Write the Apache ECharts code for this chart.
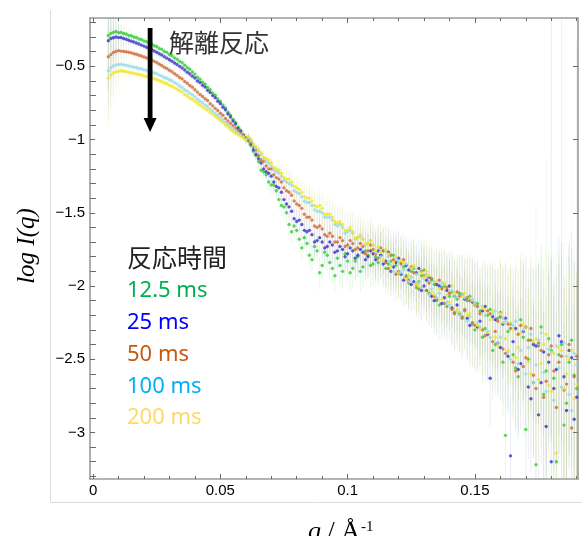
<!DOCTYPE html>
<html>
<head>
<meta charset="utf-8">
<script src="https://cdn.jsdelivr.net/npm/echarts@6/dist/echarts.min.js"></script>
<style>
html, body { margin: 0; padding: 0; background: #fff; }
#chart { width: 582px; height: 536px; }
</style>
</head>
<body>
<div id="chart"></div>
<script>
// 散乱ベクトル q (Å^-1)
const q = [
  0.006,0.007,0.008,0.009,0.010,0.011,0.012,0.013,0.014,0.015,
  0.016,0.017,0.018,0.019,0.020,0.021,0.022,0.023,0.024,0.025,
  0.026,0.027,0.028,0.029,0.030,0.031,0.032,0.033,0.034,0.035,
  0.036,0.037,0.038,0.039,0.040,0.041,0.042,0.043,0.044,0.045,
  0.046,0.047,0.048,0.049,0.050,0.051,0.052,0.053,0.054,0.055,
  0.056,0.057,0.058,0.059,0.060,
  0.061,0.062,0.063,0.064,0.065,0.066,0.067,0.068,0.069,0.070,
  0.071,0.072,0.073,0.074,0.075,0.076,0.077,0.078,0.079,0.080,
  0.081,0.082,0.083,0.084,0.085,0.086,0.087,0.088,0.089,0.090,
  0.091,0.092,0.093,0.094,0.095,0.096,0.097,0.098,0.099,0.100,
  0.101,0.102,0.103,0.104,0.105,0.106,0.107,0.108,0.109,0.110,
  0.111,0.112,0.113,0.114,0.115,0.116,0.117,0.118,0.119,0.120,
  0.121,0.122,0.123,0.124,0.125,0.126,0.127,0.128,0.129,0.130,
  0.131,0.132,0.133,0.134,0.135,0.136,0.137,0.138,0.139,0.140,
  0.141,0.142,0.143,0.144,0.145,0.146,0.147,0.148,0.149,0.150,
  0.151,0.152,0.153,0.154,0.155,0.156,0.157,0.158,0.159,0.160,
  0.161,0.162,0.163,0.164,0.165,0.166,0.167,0.168,0.169,0.170,
  0.171,0.172,0.173,0.174,0.175,0.176,0.177,0.178,0.179,0.180,
  0.181,0.182,0.183,0.184,0.185,0.186,0.187,0.188,0.189,0.190
]

// log I(q) 12.5 ms
const green = [
  -0.29,-0.275,-0.268,-0.262,-0.27,-0.268,-0.276,-0.279,-0.29,-0.291,
  -0.3,-0.303,-0.313,-0.316,-0.327,-0.331,-0.343,-0.347,-0.359,-0.365,
  -0.378,-0.384,-0.398,-0.405,-0.419,-0.427,-0.442,-0.451,-0.466,-0.476,
  -0.492,-0.508,-0.520,-0.538,-0.553,-0.575,-0.588,-0.609,-0.622,-0.644,
  -0.659,-0.683,-0.698,-0.723,-0.739,-0.766,-0.784,-0.813,-0.833,-0.862,
  -0.884,-0.915,-0.936,-0.967,-0.988,
  -1.01,-1.04,-1.08,-1.11,-1.15,-1.21,-1.22,-1.24,-1.29,-1.31,
  -1.31,-1.35,-1.41,-1.45,-1.46,-1.50,-1.58,-1.63,-1.59,-1.62,
  -1.68,-1.74,-1.67,-1.71,-1.79,-1.82,-1.73,-1.76,-1.91,-1.86,
  -1.77,-1.79,-1.84,-1.88,-1.93,-1.81,-1.86,-1.90,-1.78,-1.83,
  -1.91,-1.88,-1.83,-1.80,-1.90,-1.87,-1.76,-1.79,-1.86,-1.85,
  -1.80,-1.84,-1.79,-1.76,-1.88,-1.85,-1.83,-1.79,-1.86,-1.91,
  -1.84,-1.87,-1.93,-1.98,-1.90,-1.88,-2.01,-1.97,-1.93,-1.89,
  -2.03,-2.05,-1.96,-1.99,-2.10,-2.13,-2.01,-2.00,-2.14,-2.07,
  -2.04,-2.18,-2.09,-2.05,-2.21,-2.17,-2.10,-2.07,-2.26,-2.30,
  -2.12,-2.17,-2.35,-2.29,-2.20,-2.16,-2.44,-2.40,-2.22,-2.18,
  -2.52,-3.02,-2.31,-2.26,-2.47,-2.56,-2.62,-2.23,-2.35,-2.98,
  -2.50,-2.37,-2.66,-3.22,-2.41,-2.28,-2.74,-2.58,-2.36,-2.44,
  -2.63,-3.20,-2.47,-2.40,-2.95,-2.80,-2.52,-2.37,-2.61,-2.70
]

// 25 ms
const blue = [
  -0.325,-0.31,-0.305,-0.3,-0.304,-0.303,-0.31,-0.315,-0.322,-0.328,
  -0.334,-0.341,-0.348,-0.355,-0.362,-0.37,-0.378,-0.386,-0.395,-0.404,
  -0.414,-0.423,-0.434,-0.444,-0.455,-0.465,-0.477,-0.488,-0.5,-0.511,
  -0.525,-0.540,-0.552,-0.567,-0.580,-0.600,-0.611,-0.630,-0.642,-0.664,
  -0.678,-0.700,-0.714,-0.739,-0.754,-0.780,-0.797,-0.826,-0.846,-0.873,
  -0.894,-0.924,-0.944,-0.972,-0.992,
  -1.00,-1.03,-1.07,-1.10,-1.13,-1.16,-1.20,-1.22,-1.23,-1.25,
  -1.29,-1.32,-1.33,-1.36,-1.41,-1.44,-1.46,-1.49,-1.54,-1.56,
  -1.55,-1.58,-1.62,-1.63,-1.62,-1.65,-1.70,-1.69,-1.67,-1.70,
  -1.74,-1.73,-1.70,-1.72,-1.77,-1.76,-1.73,-1.75,-1.80,-1.78,
  -1.74,-1.76,-1.81,-1.79,-1.75,-1.77,-1.82,-1.80,-1.76,-1.78,
  -1.82,-1.76,-1.79,-1.85,-1.83,-1.77,-1.90,-1.87,-1.84,-1.81,
  -1.92,-1.96,-1.86,-1.89,-1.99,-1.97,-1.91,-1.88,-2.03,-2.00,
  -1.96,-1.94,-2.07,-2.10,-1.99,-2.00,-2.12,-2.08,-2.03,-2.00,
  -2.15,-2.07,-2.13,-2.19,-2.06,-2.09,-2.22,-2.27,-2.11,-2.13,
  -2.28,-2.24,-2.17,-2.14,-2.33,-2.63,-2.21,-2.23,-2.39,-2.42,
  -2.26,-2.22,-2.48,-3.16,-2.38,-2.29,-2.57,-2.53,-2.31,-2.28,
  -2.69,-2.77,-2.40,-2.41,-2.88,-2.66,-2.45,-2.96,-2.52,-3.20,
  -2.70,-2.57,-2.34,-2.38,-2.62,-2.85,-2.44,-2.49,-2.91,-2.76
]

// 50 ms
const orange = [
  -0.435,-0.42,-0.405,-0.398,-0.393,-0.396,-0.398,-0.4,-0.404,-0.408,
  -0.414,-0.418,-0.424,-0.43,-0.436,-0.442,-0.45,-0.456,-0.466,-0.474,
  -0.485,-0.494,-0.506,-0.515,-0.527,-0.537,-0.551,-0.562,-0.576,-0.586,
  -0.603,-0.616,-0.631,-0.643,-0.660,-0.676,-0.692,-0.706,-0.721,-0.733,
  -0.755,-0.770,-0.787,-0.802,-0.820,-0.834,-0.856,-0.873,-0.890,-0.905,
  -0.922,-0.938,-0.954,-0.972,-0.993,
  -1.00,-1.02,-1.05,-1.07,-1.11,-1.14,-1.15,-1.18,-1.20,-1.20,
  -1.24,-1.26,-1.27,-1.29,-1.33,-1.35,-1.36,-1.38,-1.42,-1.44,
  -1.45,-1.47,-1.51,-1.53,-1.53,-1.55,-1.59,-1.60,-1.59,-1.61,
  -1.65,-1.66,-1.64,-1.66,-1.70,-1.70,-1.67,-1.69,-1.73,-1.72,
  -1.69,-1.71,-1.75,-1.74,-1.71,-1.73,-1.78,-1.76,-1.72,-1.75,
  -1.78,-1.81,-1.74,-1.76,-1.84,-1.88,-1.79,-1.82,-1.92,-1.90,
  -1.85,-1.82,-1.94,-1.96,-1.87,-1.91,-1.99,-2.02,-1.90,-1.93,
  -2.03,-1.98,-1.95,-2.07,-2.09,-1.96,-2.02,-2.12,-2.01,-2.05,
  -2.16,-2.19,-2.04,-2.07,-2.22,-2.16,-2.08,-2.10,-2.25,-2.27,
  -2.14,-2.19,-2.30,-2.34,-2.17,-2.19,-2.38,-2.31,-2.24,-2.21,
  -2.43,-2.46,-2.26,-2.29,-2.52,-2.58,-2.33,-2.27,-2.55,-2.49,
  -2.37,-2.29,-2.61,-2.70,-2.39,-2.44,-2.76,-2.65,-2.47,-2.41,
  -2.58,-2.83,-2.52,-2.48,-2.71,-2.67,-2.40,-2.97,-2.62,-2.48
]

// 100 ms
const cyan = [
  -0.53,-0.51,-0.498,-0.49,-0.488,-0.486,-0.49,-0.492,-0.498,-0.5,
  -0.506,-0.508,-0.514,-0.517,-0.524,-0.527,-0.535,-0.538,-0.546,-0.55,
  -0.56,-0.566,-0.576,-0.581,-0.592,-0.599,-0.611,-0.62,-0.634,-0.644,
  -0.66,-0.67,-0.684,-0.694,-0.708,-0.724,-0.738,-0.748,-0.763,-0.774,
  -0.792,-0.806,-0.822,-0.835,-0.850,-0.864,-0.882,-0.897,-0.914,-0.928,
  -0.944,-0.956,-0.968,-0.980,-0.997,
  -0.99,-1.01,-1.04,-1.06,-1.08,-1.10,-1.13,-1.15,-1.16,-1.18,
  -1.21,-1.22,-1.23,-1.25,-1.28,-1.29,-1.30,-1.31,-1.35,-1.36,
  -1.37,-1.39,-1.42,-1.43,-1.43,-1.45,-1.48,-1.49,-1.49,-1.50,
  -1.53,-1.53,-1.53,-1.55,-1.58,-1.59,-1.58,-1.60,-1.64,-1.63,
  -1.62,-1.64,-1.68,-1.67,-1.66,-1.68,-1.72,-1.71,-1.69,-1.72,
  -1.77,-1.74,-1.80,-1.83,-1.76,-1.80,-1.86,-1.90,-1.81,-1.83,
  -1.91,-1.89,-1.85,-1.97,-1.94,-1.87,-1.92,-1.98,-2.01,-1.95,
  -1.92,-2.06,-2.02,-1.97,-2.08,-2.05,-1.98,-1.99,-2.11,-2.13,
  -2.03,-2.07,-2.17,-2.20,-2.06,-2.08,-2.24,-2.21,-2.09,-2.11,
  -2.25,-2.28,-2.14,-2.20,-2.31,-2.35,-2.19,-2.17,-2.39,-2.35,
  -2.22,-2.24,-2.45,-2.50,-2.27,-2.24,-2.53,-2.44,-2.30,-2.60,
  -2.42,-2.33,-2.66,-2.54,-2.37,-2.32,-2.59,-2.72,-2.43,-2.45,
  -2.78,-2.41,-2.56,-2.69,-2.39,-2.48,-2.74,-2.85,-2.46,-2.54
]

// 200 ms
const yellow = [
  -0.58,-0.56,-0.545,-0.538,-0.534,-0.53,-0.534,-0.536,-0.541,-0.544,
  -0.548,-0.552,-0.556,-0.56,-0.566,-0.569,-0.576,-0.578,-0.586,-0.59,
  -0.599,-0.604,-0.614,-0.619,-0.629,-0.636,-0.647,-0.654,-0.667,-0.676,
  -0.692,-0.702,-0.716,-0.725,-0.738,-0.753,-0.766,-0.776,-0.79,-0.798,
  -0.815,-0.828,-0.843,-0.855,-0.870,-0.882,-0.900,-0.914,-0.931,-0.944,
  -0.957,-0.968,-0.978,-0.988,-1.002,
  -0.98,-1.00,-1.03,-1.05,-1.07,-1.09,-1.12,-1.13,-1.14,-1.16,
  -1.19,-1.20,-1.21,-1.23,-1.26,-1.27,-1.27,-1.29,-1.32,-1.33,
  -1.34,-1.36,-1.39,-1.40,-1.40,-1.42,-1.45,-1.46,-1.45,-1.47,
  -1.51,-1.51,-1.51,-1.53,-1.56,-1.57,-1.56,-1.58,-1.62,-1.62,
  -1.60,-1.63,-1.67,-1.67,-1.65,-1.68,-1.71,-1.71,-1.69,-1.72,
  -1.76,-1.73,-1.77,-1.82,-1.75,-1.78,-1.87,-1.84,-1.80,-1.91,
  -1.83,-1.84,-1.95,-1.93,-1.88,-1.86,-1.99,-2.00,-1.91,-1.94,
  -1.90,-1.93,-2.04,-2.06,-1.97,-2.02,-2.09,-1.98,-2.06,-2.11,
  -2.00,-2.05,-2.16,-2.18,-2.07,-2.05,-2.20,-2.19,-2.10,-2.13,
  -2.27,-2.30,-2.15,-2.16,-2.32,-2.23,-2.17,-2.35,-2.41,-2.19,
  -2.25,-2.36,-2.44,-2.25,-2.30,-2.49,-2.42,-2.32,-2.26,-2.28,
  -2.52,-2.60,-2.38,-2.36,-2.64,-2.53,-2.40,-2.33,-2.68,-2.72,
  -2.46,-3.14,-2.42,-2.44,-2.70,-2.60,-2.50,-2.44,-2.77,-2.67
]

// 誤差棒 (±)
const errBar = [
  0.35,0.28,0.20,0.14,0.09,0.06,0.05,0.04,0.035,0.03,
  0.03,0.028,0.03,0.027,0.03,0.028,0.03,0.027,0.03,0.028,
  0.03,0.027,0.03,0.028,0.03,0.027,0.03,0.028,0.03,0.027,
  0.03,0.028,0.03,0.027,0.03,0.028,0.03,0.027,0.03,0.028,
  0.03,0.027,0.03,0.028,0.03,0.027,0.03,0.028,0.03,0.027,
  0.03,0.028,0.03,0.03,0.035,
  0.04,0.04,0.04,0.04,0.05,0.05,0.05,0.05,0.06,0.06,
  0.06,0.06,0.07,0.07,0.07,0.07,0.08,0.08,0.08,0.08,
  0.09,0.09,0.09,0.09,0.10,0.10,0.10,0.10,0.11,0.11,
  0.11,0.11,0.12,0.12,0.12,0.12,0.12,0.12,0.13,0.13,
  0.13,0.13,0.14,0.14,0.14,0.14,0.15,0.15,0.15,0.15,
  0.16,0.16,0.16,0.16,0.17,0.17,0.17,0.17,0.18,0.18,
  0.18,0.18,0.19,0.19,0.19,0.19,0.20,0.20,0.21,0.21,
  0.21,0.21,0.22,0.22,0.23,0.23,0.24,0.24,0.24,0.24,
  0.25,0.25,0.26,0.26,0.27,0.27,0.28,0.28,0.29,0.29,
  0.30,0.30,0.31,0.31,0.32,0.33,0.34,0.34,0.35,0.36,
  0.37,0.38,0.39,0.40,0.41,0.42,0.44,0.45,0.47,0.48,
  0.49,0.50,0.52,0.53,0.55,0.56,0.57,0.58,0.60,0.62,
  0.64,0.65,0.67,0.68,0.69,0.70,0.72,0.75,0.78,0.80
]

// 大きな誤差棒（系列番号つき）
const spikeQ = [0.174, 0.178, 0.180, 0.184, 0.188, 0.190]
const spikeSeries = [3, 0, 1, 0, 4, 2]
const spikeErr = [1.1, 1.45, 3.1, 2.3, 1.3, 2.15]

// 目盛
const xMajor = [0, 0.05, 0.1, 0.15]
const xMinor = [0.01,0.02,0.03,0.04,0.06,0.07,0.08,0.09,0.11,0.12,0.13,0.14,0.16,0.17,0.18,0.19]
const yMajor = [-3, -2.5, -2, -1.5, -1, -0.5]
const yMinor = [-3.3,-3.2,-3.1,-2.9,-2.8,-2.7,-2.6,-2.4,-2.3,-2.2,-2.1,-1.9,-1.8,-1.7,-1.6,
  -1.4,-1.3,-1.2,-1.1,-0.9,-0.8,-0.7,-0.6,-0.4,-0.3,-0.2]

const seriesNames = ['12.5 ms', '25 ms', '50 ms', '100 ms', '200 ms']
const seriesValues = [green, blue, orange, cyan, yellow]
const pointColors = ['#33cc33', '#3535c8', '#cc6a33', '#93dbe8', '#f2e424']
const errColors = ['rgba(60,200,60,0.12)', 'rgba(70,70,200,0.10)', 'rgba(200,110,50,0.10)',
  'rgba(140,210,230,0.13)', 'rgba(240,225,40,0.13)']
const labelColors = ['#00b050', '#0000ff', '#c55a11', '#00b0f0', '#ffd966']

const chart = echarts.init(document.getElementById('chart'))

const minus = v => (v < 0 ? '\u2212' + String(-v) : String(v))

const errSeries = []
const pointSeries = []
seriesValues.forEach((vals, s) => {
  const data = q.map((x, i) => {
    let e = errBar[i]
    spikeQ.forEach((sq, j) => {
      if (sq === x && spikeSeries[j] === s) e = spikeErr[j]
    })
    return [x, vals[i], e]
  })
  errSeries.push({
    type: 'custom',
    name: seriesNames[s] + ' err',
    data: data,
    clip: true,
    silent: true,
    z: 1,
    encode: { x: 0, y: 1 },
    renderItem: (params, api) => {
      const x = api.value(0), y = api.value(1), e = api.value(2)
      const a = api.coord([x, y + e])
      const b = api.coord([x, y - e])
      return {
        type: 'line',
        shape: { x1: a[0], y1: a[1], x2: b[0], y2: b[1] },
        style: { stroke: errColors[s], lineWidth: 1 }
      }
    }
  })
  pointSeries.push({
    type: 'scatter',
    name: seriesNames[s],
    data: data.map(d => [d[0], d[1]]),
    symbol: 'circle',
    symbolSize: 3.4,
    itemStyle: { color: pointColors[s] },
    clip: true,
    silent: true,
    z: 3
  })
})

const axisLineStyle = { show: true, onZero: false, lineStyle: { color: '#9c9c9c', width: 1.6 } }
const tickStyle = { color: '#6a6a6a', width: 1 }
const xBase = { type: 'value', min: -0.0012, max: 0.1905, splitLine: { show: false }, minorTick: { show: false } }
const yBase = { type: 'value', min: -3.318, max: -0.17, splitLine: { show: false }, minorTick: { show: false } }
const labelStyle = { fontSize: 15, color: '#000', fontFamily: 'Liberation Sans', formatter: minus }

const option = {
  animation: false,
  backgroundColor: '#fff',
  grid: { left: 90, right: 4, top: 18, bottom: 57 },
  xAxis: [
    { ...xBase, position: 'bottom', axisLine: axisLineStyle,
      axisTick: { inside: true, length: 5, customValues: xMajor, lineStyle: tickStyle },
      axisLabel: { ...labelStyle, customValues: xMajor, margin: 4 } },
    { ...xBase, position: 'bottom', axisLine: { show: false },
      axisTick: { inside: true, length: 3, customValues: xMinor, lineStyle: tickStyle },
      axisLabel: { show: false } },
    { ...xBase, position: 'top', axisLine: axisLineStyle,
      axisTick: { inside: true, length: 5, customValues: xMajor, lineStyle: tickStyle },
      axisLabel: { show: false } },
    { ...xBase, position: 'top', axisLine: { show: false },
      axisTick: { inside: true, length: 3, customValues: xMinor, lineStyle: tickStyle },
      axisLabel: { show: false } }
  ],
  yAxis: [
    { ...yBase, position: 'left', axisLine: axisLineStyle,
      axisTick: { inside: true, length: 5, customValues: yMajor, lineStyle: tickStyle },
      axisLabel: { ...labelStyle, customValues: yMajor, margin: 5 } },
    { ...yBase, position: 'left', axisLine: { show: false },
      axisTick: { inside: true, length: 3, customValues: yMinor, lineStyle: tickStyle },
      axisLabel: { show: false } },
    { ...yBase, position: 'right', axisLine: axisLineStyle,
      axisTick: { inside: true, length: 5, customValues: yMajor, lineStyle: tickStyle },
      axisLabel: { show: false } },
    { ...yBase, position: 'right', axisLine: { show: false },
      axisTick: { inside: true, length: 3, customValues: yMinor, lineStyle: tickStyle },
      axisLabel: { show: false } }
  ],
  series: [...errSeries, ...pointSeries],
  graphic: [
    // 外枠の薄い線
    { type: 'line', shape: { x1: 50.5, y1: 10, x2: 50.5, y2: 502.5 }, style: { stroke: '#dcdcdc', lineWidth: 1 }, z: 0 },
    { type: 'line', shape: { x1: 50.5, y1: 502.5, x2: 582, y2: 502.5 }, style: { stroke: '#dcdcdc', lineWidth: 1 }, z: 0 },
    // 解離反応の矢印
    { type: 'rect', shape: { x: 147.7, y: 28, width: 4.8, height: 92 }, style: { fill: '#000' }, z: 10 },
    { type: 'polygon', shape: { points: [[143.6, 118], [156.6, 118], [150.1, 132]] }, style: { fill: '#000' }, z: 10 },
    { type: 'text', x: 169, y: 42, z: 10,
      style: { text: '解離反応', font: '25px "Noto Sans CJK JP"', fill: '#333', textAlign: 'left', textVerticalAlign: 'middle' } },
    // 凡例（文字のみ）
    { type: 'text', x: 127, y: 257, z: 10,
      style: { text: '反応時間', font: '25px "Noto Sans CJK JP"', fill: '#222', textAlign: 'left', textVerticalAlign: 'middle' } },
    ...seriesNames.map((n, i) => ({
      type: 'text', x: 127, y: [291, 323, 355, 387, 418][i], z: 10,
      style: { text: n, font: '22px "Noto Sans"', fill: labelColors[i], textAlign: 'left', textVerticalAlign: 'middle' }
    })),
    // 軸タイトル
    { type: 'text', x: 27, y: 246, rotation: Math.PI / 2, z: 10,
      style: { text: 'log I(q)', font: 'italic 25px "Liberation Serif"', fill: '#000', textAlign: 'center', textVerticalAlign: 'middle' } },
    { type: 'text', x: 308, y: 532, z: 10,
      style: {
        text: '{i|q}{n| / Å}', textAlign: 'left', textVerticalAlign: 'middle',
        rich: {
          i: { fontStyle: 'italic', fontFamily: 'Liberation Serif', fontSize: 26, color: '#000' },
          n: { fontFamily: 'Liberation Serif', fontSize: 26, color: '#000' }
        }
      } },
    { type: 'text', x: 361, y: 527, z: 10,
      style: { text: '-1', font: '15px "Liberation Serif"', fill: '#000', textAlign: 'left', textVerticalAlign: 'middle' } }
  ]
}

chart.setOption(option)
</script>
</body>
</html>
